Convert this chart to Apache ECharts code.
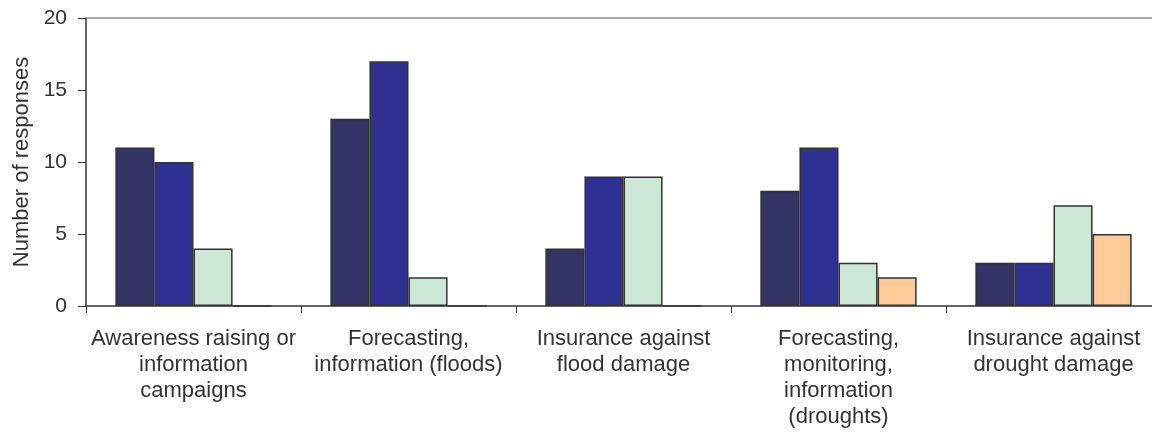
<!DOCTYPE html>
<html>
<head>
<meta charset="utf-8">
<script src="https://cdn.jsdelivr.net/npm/echarts@6/dist/echarts.min.js"></script>
<style>html,body{margin:0;padding:0;background:#fff;overflow:hidden}#c{width:1162px;height:432px}</style>
</head>
<body>
<div id="c"></div>
<script>
var categories = [
  'Awareness raising or\ninformation\ncampaigns',
  'Forecasting,\ninformation (floods)',
  'Insurance against\nflood damage',
  'Forecasting,\nmonitoring,\ninformation\n(droughts)',
  'Insurance against\ndrought damage'
];
var series1 = [11, 13, 4, 8, 3];
var series2 = [10, 17, 9, 11, 3];
var series3 = [4, 2, 9, 3, 7];
var series4 = [0, 0, 0, 2, 5];
var yTicks = [0, 5, 10, 15, 20];

var colors = ['#333366', '#2e3192', '#cde7d7', '#ffcc99'];
var font = 'Liberation Sans, Arial, Helvetica, sans-serif';
var chart = echarts.init(document.getElementById('c'), null, {renderer: 'canvas'});
function mk(data, i) {
  return {
    type: 'bar', data: data, barGap: '0%', barCategoryGap: '27.3%',
    itemStyle: {color: colors[i], borderColor: '#333333', borderWidth: 1.5},
    animation: false
  };
}
chart.setOption({
  animation: false,
  grid: {left: 86, right: 1, top: 18, bottom: 126},
  xAxis: [{
    type: 'category', data: categories, position: 'bottom',
    axisLine: {lineStyle: {color: '#333333', width: 1.5}},
    axisTick: {show: true, alignWithLabel: false, length: 7, lineStyle: {color: '#333333'}},
    axisLabel: {interval: 0, margin: 20, fontSize: 22, lineHeight: 26, color: '#333333', fontFamily: font, align: 'center'}
  }, {
    type: 'category', data: categories, position: 'top',
    axisLine: {show: true, lineStyle: {color: '#9a8f8f', width: 1.5}},
    axisTick: {show: false}, axisLabel: {show: false}
  }],
  yAxis: {
    type: 'value', min: yTicks[0], max: yTicks[yTicks.length - 1], interval: 5,
    name: 'Number of responses', nameLocation: 'middle', nameGap: 53, nameRotate: 90,
    nameTextStyle: {fontSize: 22, color: '#333333', fontFamily: font},
    axisLine: {show: true, lineStyle: {color: '#333333', width: 1.5}},
    axisTick: {show: true, length: 8, lineStyle: {color: '#333333'}},
    axisLabel: {fontSize: 21, color: '#333333', fontFamily: font, margin: 19},
    splitLine: {show: false}
  },
  series: [mk(series1, 0), mk(series2, 1), mk(series3, 2), mk(series4, 3)]
});
</script>
</body>
</html>
